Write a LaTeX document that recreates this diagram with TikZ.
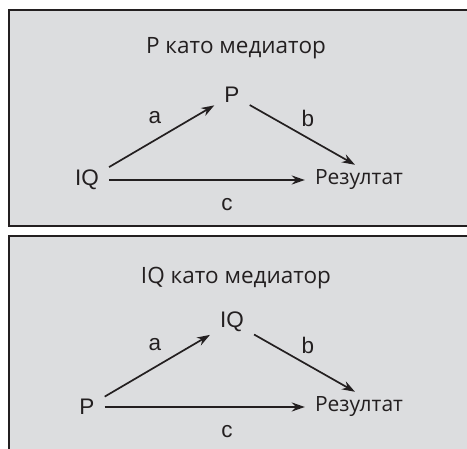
\documentclass[tikz,border=0pt]{standalone}
\usepackage{fontspec}
\setmainfont{Liberation Sans}
\newfontfamily\humfont{Open Sans}
\usetikzlibrary{arrows.meta, positioning}
\definecolor{panelgray}{RGB}{220,221,223}
\definecolor{inkblack}{RGB}{35,31,32}

\begin{document}
\begin{tikzpicture}[x=1pt, y=-1pt, >={Stealth[length=13pt,width=9pt]},
    panel/.style={draw=inkblack, line width=1.8pt, fill=panelgray},
    heading/.style={font=\humfont\fontsize{22.5}{27}\selectfont, text=inkblack},
    var/.style={font=\fontsize{22.5}{27}\selectfont, text=inkblack, inner sep=10pt},
    outcome/.style={font=\humfont\fontsize{21}{25}\selectfont, text=inkblack, inner sep=10pt},
    path/.style={font=\fontsize{22.5}{27}\selectfont, text=inkblack},
    arr/.style={->, draw=inkblack, line width=1.7pt}]
    \useasboundingbox (0,0) rectangle (467,449);
    \clip (0,0) rectangle (467,449);
    % P as mediator
    \draw[panel] (9,10) rectangle (480,226);
    \node[heading] (title1) at (236,48) {P като медиатор};
    \node[var] (p1) at (232,95) {P};
    \node[var] (iq1) at (87,180) {IQ};
    \node[outcome] (res1) at (359,180) {Резултат};
    \draw[arr] (iq1) -- (p1);
    \draw[arr] (p1) -- ([xshift=-4pt,yshift=-5pt]res1.north);
    \draw[arr] (iq1) -- (res1);
    \node[path] (a1) at (155,118) {a};
    \node[path] (b1) at (308,118) {b};
    \node[path] (c1) at (227,205) {c};
    % IQ as mediator
    \draw[panel] (9,236) rectangle (480,470);
    \node[heading] (title2) at (236,278) {IQ като медиатор};
    \node[var] (iq2) at (232,322) {IQ};
    \node[var] (p2) at (87,407) {P};
    \node[outcome] (res2) at (359,407) {Резултат};
    \draw[arr] (p2) -- (iq2);
    \draw[arr] (iq2) -- ([xshift=-4pt,yshift=-5pt]res2.north);
    \draw[arr] (p2) -- (res2);
    \node[path] (a2) at (155,345) {a};
    \node[path] (b2) at (308,345) {b};
    \node[path] (c2) at (227,432) {c};
\end{tikzpicture}
\end{document}
